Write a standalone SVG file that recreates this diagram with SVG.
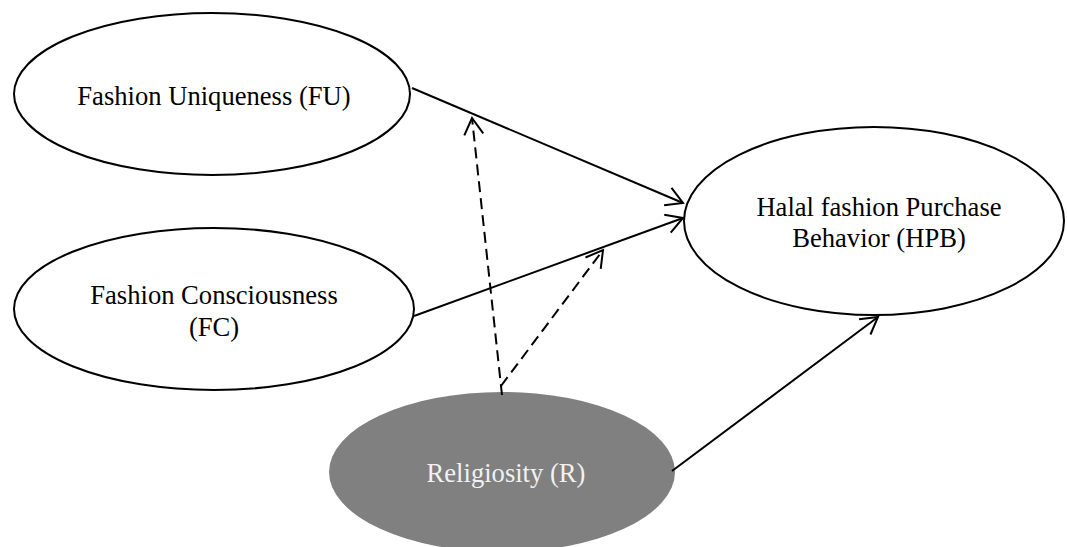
<svg xmlns="http://www.w3.org/2000/svg" width="1067" height="547" viewBox="0 0 1067 547">
<style>
.node{fill:#fff;stroke:#000;stroke-width:2}
.rel{fill:#808080;stroke:none}
.lbl{font-family:"Liberation Serif","Times New Roman",serif;font-size:26.6px;fill:#000;text-anchor:middle}
.lblw{fill:#f2f2f2}
.conn{stroke:#000;stroke-width:2;fill:none;marker-end:url(#arr)}
.dash{stroke-dasharray:11,6}
</style>
<defs>
<marker id="arr" markerUnits="userSpaceOnUse" markerWidth="30" markerHeight="30" refX="0" refY="0" viewBox="-22 -15 26 30" orient="auto" overflow="visible">
<path d="M-16.5,-9.5 L0,0 L-16.5,9.5" fill="none" stroke="#000" stroke-width="2" stroke-linejoin="miter"/>
</marker>
</defs>
<g id="node-FU">
<ellipse class="node" cx="212" cy="94" rx="198" ry="81"/>
<text class="lbl" x="214" y="105">Fashion Uniqueness (FU)</text>
</g>
<g id="node-FC">
<ellipse class="node" cx="214" cy="309" rx="200" ry="81"/>
<text class="lbl" x="214" y="304">Fashion Consciousness</text>
<text class="lbl" x="214" y="336">(FC)</text>
</g>
<g id="node-HPB">
<ellipse class="node" cx="874" cy="221" rx="190" ry="94"/>
<text class="lbl" x="879" y="216">Halal fashion Purchase</text>
<text class="lbl" x="879" y="247">Behavior (HPB)</text>
</g>
<g id="node-R">
<ellipse class="rel" cx="502" cy="472" rx="173" ry="80"/>
<text class="lbl lblw" x="506" y="482">Religiosity (R)</text>
</g>
<g id="connectors">
<line class="conn" x1="412" y1="88" x2="683" y2="203"/>
<line class="conn" x1="414" y1="316" x2="683" y2="218"/>
<line class="conn" x1="672" y1="471" x2="878" y2="317"/>
<line class="conn dash" x1="502" y1="395" x2="472" y2="118"/>
<line class="conn dash" x1="501" y1="386" x2="603" y2="250"/>
</g>
</svg>
